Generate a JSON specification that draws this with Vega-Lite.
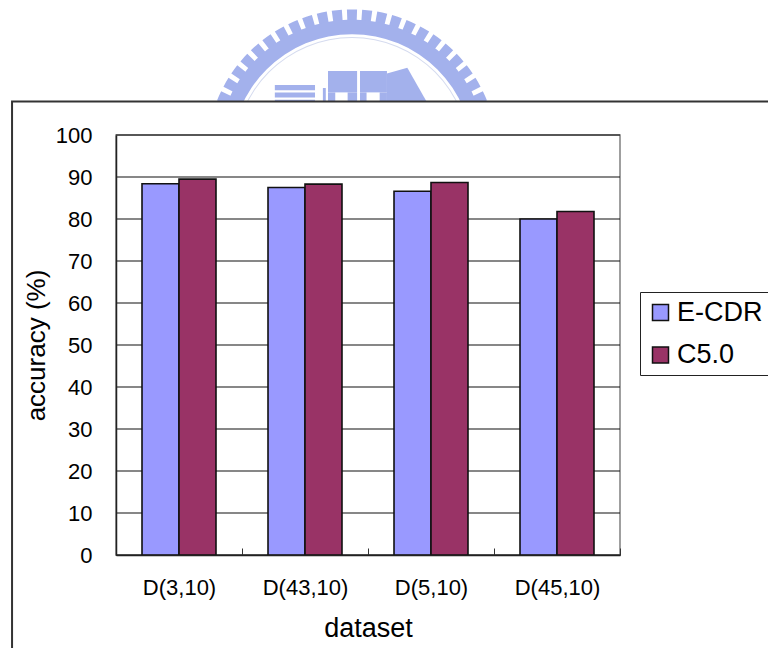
{
  "$schema": "https://vega.github.io/schema/vega-lite/v6.json",
  "width": 504,
  "height": 420,
  "autosize": {"type": "none"},
  "padding": {"left": 116, "top": 135, "right": 148, "bottom": 93},
  "background": "white",
  "config": {"view": {"stroke": null}, "font": "Liberation Sans"},
  "datasets": {
    "accuracy": [
      {"dataset": "D(3,10)", "method": "E-CDR", "accuracy": 88.4},
      {"dataset": "D(3,10)", "method": "C5.0", "accuracy": 89.5},
      {"dataset": "D(43,10)", "method": "E-CDR", "accuracy": 87.5},
      {"dataset": "D(43,10)", "method": "C5.0", "accuracy": 88.3},
      {"dataset": "D(5,10)", "method": "E-CDR", "accuracy": 86.6},
      {"dataset": "D(5,10)", "method": "C5.0", "accuracy": 88.7},
      {"dataset": "D(45,10)", "method": "E-CDR", "accuracy": 80.0},
      {"dataset": "D(45,10)", "method": "C5.0", "accuracy": 81.8}
    ],
    "gridTicks": [
      {"v": 0}, {"v": 10}, {"v": 20}, {"v": 30}, {"v": 40}, {"v": 50},
      {"v": 60}, {"v": 70}, {"v": 80}, {"v": 90}, {"v": 100}
    ],
    "sealBand": [{"a0": -90, "a1": 90, "r0": 0.83, "r1": 0.93}],
    "sealRing": [{"a0": -90, "a1": 90, "r0": 0.803, "r1": 0.81}],
    "sealTeeth": [
      {"a0": -74, "a1": -70, "r0": 0.92, "r1": 1},
      {"a0": -68, "a1": -64, "r0": 0.92, "r1": 1},
      {"a0": -62, "a1": -58, "r0": 0.92, "r1": 1},
      {"a0": -56, "a1": -52, "r0": 0.92, "r1": 1},
      {"a0": -50, "a1": -46, "r0": 0.92, "r1": 1},
      {"a0": -44, "a1": -40, "r0": 0.92, "r1": 1},
      {"a0": -38, "a1": -34, "r0": 0.92, "r1": 1},
      {"a0": -32, "a1": -28, "r0": 0.92, "r1": 1},
      {"a0": -26, "a1": -22, "r0": 0.92, "r1": 1},
      {"a0": -20, "a1": -16, "r0": 0.92, "r1": 1},
      {"a0": -14, "a1": -10, "r0": 0.92, "r1": 1},
      {"a0": -8, "a1": -4, "r0": 0.92, "r1": 1},
      {"a0": -2, "a1": 2, "r0": 0.92, "r1": 1},
      {"a0": 4, "a1": 8, "r0": 0.92, "r1": 1},
      {"a0": 10, "a1": 14, "r0": 0.92, "r1": 1},
      {"a0": 16, "a1": 20, "r0": 0.92, "r1": 1},
      {"a0": 22, "a1": 26, "r0": 0.92, "r1": 1},
      {"a0": 28, "a1": 32, "r0": 0.92, "r1": 1},
      {"a0": 34, "a1": 38, "r0": 0.92, "r1": 1},
      {"a0": 40, "a1": 44, "r0": 0.92, "r1": 1},
      {"a0": 46, "a1": 50, "r0": 0.92, "r1": 1},
      {"a0": 52, "a1": 56, "r0": 0.92, "r1": 1},
      {"a0": 58, "a1": 62, "r0": 0.92, "r1": 1},
      {"a0": 64, "a1": 68, "r0": 0.92, "r1": 1},
      {"a0": 70, "a1": 74, "r0": 0.92, "r1": 1}
    ],
    "sealBuilding": [
      {"x0": -0.53, "x1": -0.254, "y0": 0.445, "y1": 0.48},
      {"x0": -0.53, "x1": -0.254, "y0": 0.395, "y1": 0.43},
      {"x0": -0.53, "x1": -0.254, "y0": 0.3, "y1": 0.38},
      {"x0": -0.2, "x1": -0.18, "y0": 0.3, "y1": 0.46},
      {"x0": -0.165, "x1": 0.035, "y0": 0.43, "y1": 0.577},
      {"x0": -0.165, "x1": -0.115, "y0": 0.3, "y1": 0.43},
      {"x0": -0.03, "x1": 0.035, "y0": 0.3, "y1": 0.43},
      {"x0": 0.055, "x1": 0.24, "y0": 0.43, "y1": 0.577},
      {"x0": 0.055, "x1": 0.1, "y0": 0.3, "y1": 0.43},
      {"x0": 0.19, "x1": 0.24, "y0": 0.3, "y1": 0.43}
    ],
    "sealRoof": [
      {"x": 0.24, "top": 0.56, "base": 0.3},
      {"x": 0.38, "top": 0.6, "base": 0.3},
      {"x": 0.55, "top": 0.3, "base": 0.3}
    ],
    "panels": [{"left": -0.825, "right": 5.3, "top": 108, "bottom": -30}],
    "plotBox": [{"left": 0, "right": 4, "top": 100, "bottom": 0}]
  },
  "resolve": {"scale": {"x": "independent", "y": "independent"}},
  "layer": [
    {
      "data": {"name": "sealTeeth"},
      "mark": {"type": "arc", "color": "#a3b1ec"},
      "encoding": {
        "x": {"datum": 0, "type": "quantitative", "axis": null, "scale": {"domain": [-1, 1], "range": [90.4, 381.6]}},
        "y": {"datum": 0, "type": "quantitative", "axis": null, "scale": {"domain": [-1, 1], "range": [165.6, -125.6]}},
        "theta": {"field": "a0", "type": "quantitative", "scale": {"domain": [-180, 180], "range": [-3.14159265, 3.14159265]}},
        "theta2": {"field": "a1"},
        "radius": {"field": "r1", "type": "quantitative", "scale": {"domain": [0, 1], "range": [0, 145.6]}},
        "radius2": {"field": "r0"}
      }
    },
    {
      "data": {"name": "sealBand"},
      "mark": {"type": "arc", "color": "#a3b1ec"},
      "encoding": {
        "x": {"datum": 0, "type": "quantitative", "axis": null, "scale": {"domain": [-1, 1], "range": [90.4, 381.6]}},
        "y": {"datum": 0, "type": "quantitative", "axis": null, "scale": {"domain": [-1, 1], "range": [165.6, -125.6]}},
        "theta": {"field": "a0", "type": "quantitative", "scale": {"domain": [-180, 180], "range": [-3.14159265, 3.14159265]}},
        "theta2": {"field": "a1"},
        "radius": {"field": "r1", "type": "quantitative", "scale": {"domain": [0, 1], "range": [0, 145.6]}},
        "radius2": {"field": "r0"}
      }
    },
    {
      "data": {"name": "sealRing"},
      "mark": {"type": "arc", "color": "#d5dbef"},
      "encoding": {
        "x": {"datum": 0, "type": "quantitative", "axis": null, "scale": {"domain": [-1, 1], "range": [90.4, 381.6]}},
        "y": {"datum": 0, "type": "quantitative", "axis": null, "scale": {"domain": [-1, 1], "range": [165.6, -125.6]}},
        "theta": {"field": "a0", "type": "quantitative", "scale": {"domain": [-180, 180], "range": [-3.14159265, 3.14159265]}},
        "theta2": {"field": "a1"},
        "radius": {"field": "r1", "type": "quantitative", "scale": {"domain": [0, 1], "range": [0, 145.6]}},
        "radius2": {"field": "r0"}
      }
    },
    {
      "data": {"name": "sealBuilding"},
      "mark": {"type": "rect", "color": "#a3b1ec"},
      "encoding": {
        "x": {"field": "x0", "type": "quantitative", "axis": null, "scale": {"domain": [-1, 1], "range": [90.4, 381.6]}},
        "x2": {"field": "x1"},
        "y": {"field": "y0", "type": "quantitative", "axis": null, "scale": {"domain": [-1, 1], "range": [165.6, -125.6]}},
        "y2": {"field": "y1"}
      }
    },
    {
      "data": {"name": "sealRoof"},
      "mark": {"type": "area", "color": "#a3b1ec", "orient": "vertical"},
      "encoding": {
        "x": {"field": "x", "type": "quantitative", "axis": null, "scale": {"domain": [-1, 1], "range": [90.4, 381.6]}},
        "y": {"field": "top", "type": "quantitative", "axis": null, "scale": {"domain": [-1, 1], "range": [165.6, -125.6]}},
        "y2": {"field": "base"}
      }
    },
    {
      "data": {"name": "panels"},
      "mark": {"type": "rect", "fill": "white", "stroke": "#333333", "strokeWidth": 2, "clip": false},
      "encoding": {
        "x": {"field": "left", "type": "quantitative", "axis": null, "scale": {"domain": [0, 4], "range": [0, 504]}},
        "x2": {"field": "right"},
        "y": {"field": "top", "type": "quantitative", "axis": null, "scale": {"domain": [0, 100], "nice": false}},
        "y2": {"field": "bottom"}
      }
    },
    {
      "data": {"name": "plotBox"},
      "mark": {"type": "rect", "fill": "white", "stroke": "#808080", "strokeWidth": 1.5},
      "encoding": {
        "x": {"field": "left", "type": "quantitative", "axis": null, "scale": {"domain": [0, 4], "range": [0, 504]}},
        "x2": {"field": "right"},
        "y": {"field": "top", "type": "quantitative", "axis": null, "scale": {"domain": [0, 100], "nice": false}},
        "y2": {"field": "bottom"}
      }
    },
    {
      "data": {"name": "gridTicks"},
      "mark": {"type": "rule", "color": "#111111", "strokeWidth": 1.2},
      "encoding": {
        "y": {"field": "v", "type": "quantitative", "axis": null, "scale": {"domain": [0, 100], "nice": false}}
      }
    },
    {
      "data": {"name": "accuracy"},
      "mark": {"type": "bar", "stroke": "#111111", "strokeWidth": 1.6},
      "encoding": {
        "x": {
          "field": "dataset",
          "type": "nominal",
          "sort": ["D(3,10)", "D(43,10)", "D(5,10)", "D(45,10)"],
          "scale": {"paddingInner": 0, "paddingOuter": 0},
          "axis": {
            "title": "dataset",
            "titleFontSize": 27,
            "titleFontWeight": "normal",
            "titleColor": "black",
            "titlePadding": 17,
            "labelFontSize": 22,
            "labelColor": "black",
            "labelAngle": 0,
            "labelPadding": 29,
            "labelFlush": false,
            "tickBand": "extent",
            "tickSize": -7,
            "tickColor": "#333333",
            "domainColor": "#222222",
            "domainWidth": 1.5,
            "zindex": 1
          }
        },
        "xOffset": {
          "field": "method",
          "type": "nominal",
          "sort": ["E-CDR", "C5.0"],
          "scale": {"paddingInner": 0, "paddingOuter": 0.703}
        },
        "y": {
          "field": "accuracy",
          "type": "quantitative",
          "scale": {"domain": [0, 100], "nice": false},
          "axis": {
            "title": "accuracy (%)",
            "titleFontSize": 26,
            "titleFontWeight": "normal",
            "titleColor": "black",
            "titlePadding": 6,
            "labelFontSize": 22,
            "labelColor": "black",
            "labelPadding": 24,
            "tickSize": 0,
            "tickCount": 11,
            "grid": false,
            "domainColor": "#222222",
            "domainWidth": 1.5,
            "zindex": 1
          }
        },
        "color": {
          "field": "method",
          "type": "nominal",
          "scale": {"domain": ["E-CDR", "C5.0"], "range": ["#9999ff", "#993366"]},
          "legend": {
            "title": null,
            "orient": "none",
            "legendX": 524,
            "legendY": 157,
            "fillColor": "white",
            "strokeColor": "#222222",
            "padding": 7,
            "labelFontSize": 27,
            "labelColor": "black",
            "labelOffset": 3,
            "symbolType": "square",
            "symbolSize": 256,
            "symbolStrokeColor": "#111111",
            "symbolStrokeWidth": 1.5,
            "rowPadding": 14.5,
            "labelLimit": 200
          }
        }
      }
    }
  ]
}
